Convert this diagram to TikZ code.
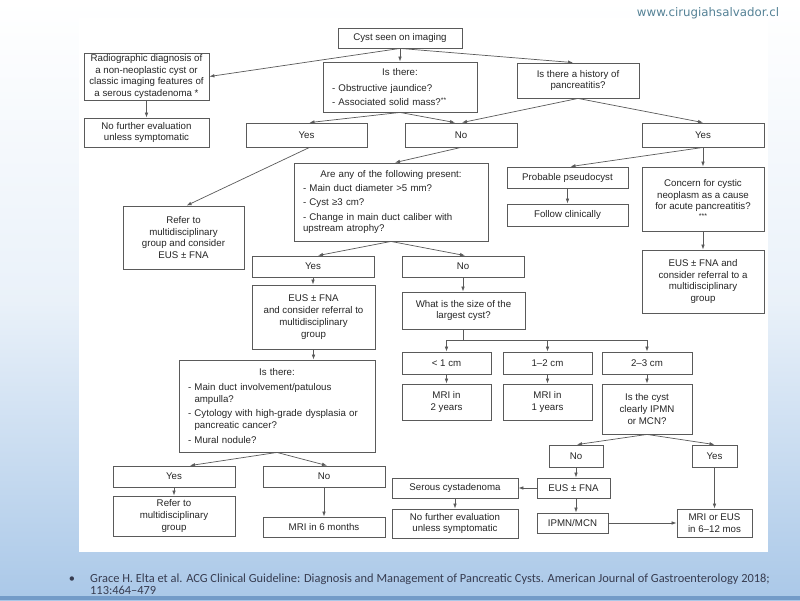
\documentclass[tikz,border=0pt]{standalone}
\usepackage{fontspec}
\setmainfont{Liberation Sans}
\newfontfamily\citefont{Carlito}
\newfontfamily\wmfont{DejaVu Sans}
\usetikzlibrary{arrows.meta,calc}
\definecolor{boxline}{RGB}{90,90,90}
\definecolor{wm}{RGB}{85,130,150}
\definecolor{citec}{RGB}{55,60,80}
\definecolor{bgblue}{RGB}{170,200,232}
\definecolor{band}{RGB}{115,155,200}
\newcommand\istitle[2][2pt]{{\centering #2\par}\vspace{#1}}
\newcommand\itm[2][2pt]{\par\vspace{#1}\hangindent=6.5pt\hangafter=1\noindent-\ #2}
\newcommand\itmn[2][2.5pt]{\par\vspace{#1}\noindent-\ #2}
\tikzset{
  box/.style={draw=boxline, line width=0.85pt, fill=white, inner sep=0pt, align=center,
    font=\fontsize{9.7}{11.8}\selectfont, text=black!85},
  lbox/.style={box, align=left},
  conn/.style={draw=boxline, line width=0.7pt, -{Latex[length=5pt,width=3.6pt]}},
  plain/.style={draw=boxline, line width=0.7pt},
  cite/.style={font=\citefont\fontsize{12.4}{13}\selectfont, text=citec, inner sep=0pt},
}
\begin{document}
\begin{tikzpicture}[x=1pt,y=-1pt]
\useasboundingbox (0,0) rectangle (800,600);
% background
\shade[top color=white, bottom color=bgblue, middle color=white!75!bgblue] (0,0) rectangle (800,600);
\fill[band] (0,596) rectangle (800,600);
\fill[white] (79,18) rectangle (768,552);
% watermark and citation
\node[font=\wmfont\fontsize{11.8}{12}\selectfont, text=wm] (wmark) at (708,13) {www.cirugiahsalvador.cl};
\node[cite, anchor=base] (bullet) at (72,582) {•};
\node[cite, anchor=base west] (citeA) at (90,582) {Grace H. Elta et al. ACG Clinical Guideline: Diagnosis and Management of Pancreatic Cysts. American Journal of Gastroenterology 2018;};
\node[cite, anchor=base west] (citeB) at (90,594) {113:464–479};

% boxes
\node[box, minimum width=124, minimum height=20] (cyst) at (400,38) {Cyst seen on imaging};
\node[box, minimum width=125, minimum height=47] (radio) at (146.5,76.5) {Radiographic diagnosis of\\a non-neoplastic cyst or\\classic imaging features of\\a serous cystadenoma *};
\node[box, minimum width=125, minimum height=29] (nofurtherA) at (146.5,132.5) {No further evaluation\\unless symptomatic};
\node[lbox, text width=136, minimum width=154, minimum height=50] (isthereA) at (400,87) {\istitle[3pt]{Is there:}\itm{Obstructive jaundice?}\itm{Associated solid mass?\textsuperscript{**}}};
\node[box, minimum width=122, minimum height=35] (hist) at (578,80.5) {Is there a history of\\pancreatitis?};
\node[box, minimum width=121, minimum height=24] (yesA) at (306.5,135) {Yes};
\node[box, minimum width=112, minimum height=24] (noA) at (461,135) {No};
\node[box, minimum width=122, minimum height=24] (yesB) at (703,135) {Yes};
\node[box, minimum width=121, minimum height=63] (referA) at (183.5,237.5) {Refer to\\multidisciplinary\\group and consider\\EUS ± FNA};
\node[lbox, text width=176, minimum width=194, minimum height=78] (areany) at (391,202) {\istitle[0pt]{Are any of the following present:}\itmn{Main duct diameter >5 mm?}\itmn{Cyst ≥3 cm?}\itmn{Change in main duct caliber with\newline upstream atrophy?}};
\node[box, minimum width=121, minimum height=21] (pseudo) at (567.5,177.5) {Probable pseudocyst};
\node[box, minimum width=121, minimum height=22] (follow) at (567.5,215) {Follow clinically};
\node[box, minimum width=122, minimum height=64] (concern) at (703,199) {Concern for cystic\\neoplasm as a cause\\for acute pancreatitis?\\[-3pt]{\fontsize{7}{7}\selectfont ***}};
\node[box, minimum width=122, minimum height=63] (eusref) at (703,281.5) {EUS ± FNA and\\consider referral to a\\multidisciplinary\\group};
\node[box, minimum width=122, minimum height=21] (yesC) at (313,266.5) {Yes};
\node[box, minimum width=122, minimum height=21] (noC) at (463,266.5) {No};
\node[box, minimum width=123, minimum height=64] (eusB) at (313.5,317) {EUS ± FNA\\and consider referral to\\multidisciplinary\\group};
\node[box, minimum width=123, minimum height=37] (size) at (463.5,310.5) {What is the size of the\\largest cyst?};
\node[box, minimum width=89, minimum height=22] (ltone) at (446.5,363) {< 1 cm};
\node[box, minimum width=89, minimum height=22] (onetwo) at (547.5,363) {1–2 cm};
\node[box, minimum width=90, minimum height=22] (twothree) at (647,363) {2–3 cm};
\node[box, minimum width=89, minimum height=36] (mritwo) at (446.5,402) {MRI in\\2 years};
\node[box, minimum width=89, minimum height=36] (mrione) at (547.5,402) {MRI in\\1 years};
\node[box, minimum width=90, minimum height=50] (ipmnq) at (647,409) {Is the cyst\\clearly IPMN\\or MCN?};
\node[lbox, text width=178, minimum width=196, minimum height=92] (isthereB) at (277,406) {\istitle[1pt]{Is there:}\itm{Main duct involvement/patulous\newline ampulla?}\itm[3pt]{Cytology with high-grade dysplasia or\newline pancreatic cancer?}\itm[3pt]{Mural nodule?}};
\node[box, minimum width=122, minimum height=21] (yesD) at (174,476.5) {Yes};
\node[box, minimum width=122, minimum height=40] (referB) at (174,516) {Refer to\\multidisciplinary\\group};
\node[box, minimum width=122, minimum height=21] (noD) at (324,476.5) {No};
\node[box, minimum width=122, minimum height=20] (mrisix) at (324,527) {MRI in 6 months};
\node[box, minimum width=54, minimum height=22] (noE) at (576,456) {No};
\node[box, minimum width=45, minimum height=22] (yesE) at (714.5,456) {Yes};
\node[box, minimum width=73, minimum height=20] (eusC) at (573.5,488) {EUS ± FNA};
\node[box, minimum width=126, minimum height=20] (serous) at (455,488) {Serous cystadenoma};
\node[box, minimum width=126, minimum height=29] (nofurtherB) at (455,523.5) {No further evaluation\\unless symptomatic};
\node[box, minimum width=71, minimum height=20] (ipmn) at (572.5,523) {IPMN/MCN};
\node[box, minimum width=75, minimum height=28] (mrieus) at (714.5,523) {MRI or EUS\\in 6–12 mos};

% connectors
\draw[conn] (cyst.south) -- (radio.east);
\draw[conn] (cyst.south) -- (isthereA.north);
\draw[conn] (cyst.south) -- ($(hist.north)+(-5,0)$);
\draw[conn] (radio.south) -- (nofurtherA.north);
\draw[conn] (isthereA.south) -- ($(yesA.north)+(3,0)$);
\draw[conn] (isthereA.south) -- ($(noA.north)+(-6,0)$);
\draw[conn] (hist.south) -- ($(noA.north)+(1,0)$);
\draw[conn] (hist.south) -- (yesB.north);
\draw[conn] ($(yesA.south)+(3,0)$) -- ($(referA.north)+(3,0)$);
\draw[conn] (noA.south) -- ($(areany.north)+(4,0)$);
\draw[conn] (yesB.south) -- ($(pseudo.north)+(3,0)$);
\draw[conn] (yesB.south) -- (concern.north);
\draw[conn] (pseudo.south) -- (follow.north);
\draw[conn] (concern.south) -- (eusref.north);
\draw[conn] (areany.south) -- ($(yesC.north)+(5,0)$);
\draw[conn] (areany.south) -- ($(noC.north)+(2,0)$);
\draw[conn] (yesC.south) -- (yesC.south |- eusB.north);
\draw[conn] (noC.south) -- (noC.south |- size.north);
\draw[plain] (size.south) -- ++(0,11) coordinate (split);
\draw[plain] (ltone.north |- split) -- (twothree.north |- split);
\draw[conn] (ltone.north |- split) -- (ltone.north);
\draw[conn] (onetwo.north |- split) -- (onetwo.north);
\draw[conn] (twothree.north |- split) -- (twothree.north);
\draw[conn] (ltone.south) -- (mritwo.north);
\draw[conn] (onetwo.south) -- (mrione.north);
\draw[conn] (twothree.south) -- (ipmnq.north);
\draw[conn] (ipmnq.south) -- ($(noE.north)+(1,0)$);
\draw[conn] (ipmnq.south) -- (yesE.north);
\draw[conn] (noE.south) -- (noE.south |- eusC.north);
\draw[conn] (eusC.west) -- (serous.east);
\draw[conn] (serous.south) -- (nofurtherB.north);
\draw[conn] (noE.south |- eusC.south) -- (noE.south |- ipmn.north);
\draw[conn] (ipmn.east) -- (mrieus.west);
\draw[conn] (yesE.south) -- (yesE.south |- mrieus.north);
\draw[conn] (eusB.south) -- (eusB.south |- isthereB.north);
\draw[conn] (isthereB.south) -- ($(yesD.north)+(16,0)$);
\draw[conn] (isthereB.south) -- ($(noD.north)+(3,0)$);
\draw[conn] (yesD.south) -- (referB.north);
\draw[conn] (noD.south) -- (mrisix.north);
\end{tikzpicture}
\end{document}
